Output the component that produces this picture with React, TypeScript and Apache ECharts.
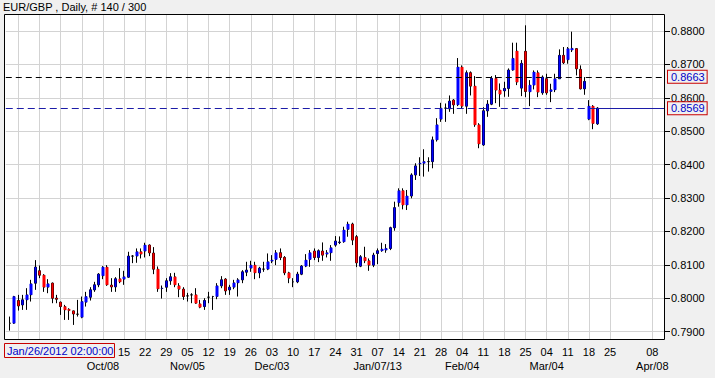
import React, { useEffect, useRef } from "react";
import * as echarts from "echarts";

// ---- OHLC values, one per daily bar (Sep 6 2012 .. Mar 20 2013) ----
const opens = [
  0.7925, 0.7925, 0.7993, 0.7980, 0.7995, 0.8010, 0.8045, 0.8082, 0.8069, 0.8033,
  0.8045, 0.8000, 0.7988, 0.7975, 0.7967, 0.7962, 0.7952, 0.7943, 0.7988, 0.8003,
  0.8025, 0.8040, 0.8067, 0.8093, 0.8039, 0.8034, 0.8058, 0.8057, 0.8063, 0.8126,
  0.8126, 0.8139, 0.8141, 0.8159, 0.8135, 0.8087, 0.8029, 0.8033, 0.8052, 0.8064,
  0.8037, 0.8027, 0.8007, 0.8010, 0.8010, 0.7983, 0.7975, 0.8003, 0.8005, 0.8005,
  0.8037, 0.8057, 0.8025, 0.8033, 0.8046, 0.8055, 0.8078, 0.8090, 0.8099, 0.8076,
  0.8087, 0.8087, 0.8111, 0.8116, 0.8136, 0.8122, 0.8076, 0.8049, 0.8049, 0.8072,
  0.8096, 0.8116, 0.8141, 0.8122, 0.8141, 0.8132, 0.8136, 0.8159, 0.8167, 0.8169,
  0.8206, 0.8222, 0.8184, 0.8096, 0.8122, 0.8112, 0.8099, 0.8134, 0.8142, 0.8144,
  0.8149, 0.8211, 0.8286, 0.8322, 0.8279, 0.8306, 0.8369, 0.8402, 0.8404, 0.8409,
  0.8409, 0.8474, 0.8536, 0.8569, 0.8567, 0.8593, 0.8579, 0.8692, 0.8575, 0.8675,
  0.8635, 0.8519, 0.8459, 0.8561, 0.8581, 0.8658, 0.8623, 0.8621, 0.8628, 0.8683,
  0.8740, 0.8629, 0.8739, 0.8618, 0.8638, 0.8675, 0.8615, 0.8657, 0.8619, 0.8624,
  0.8657, 0.8727, 0.8714, 0.8743, 0.8747, 0.8685, 0.8627, 0.8536, 0.8575, 0.8522,
];
const closes = [
  0.7925, 0.8005, 0.7977, 0.7995, 0.8010, 0.8043, 0.8093, 0.8069, 0.8033, 0.8043,
  0.8000, 0.7997, 0.7975, 0.7965, 0.7963, 0.7953, 0.7952, 0.7990, 0.8005, 0.8025,
  0.8040, 0.8072, 0.8093, 0.8040, 0.8034, 0.8058, 0.8049, 0.8064, 0.8126, 0.8126,
  0.8139, 0.8132, 0.8159, 0.8136, 0.8087, 0.8028, 0.8030, 0.8052, 0.8064, 0.8040,
  0.8027, 0.8005, 0.8007, 0.8010, 0.7985, 0.7973, 0.7993, 0.8003, 0.8005, 0.8037,
  0.8055, 0.8022, 0.8033, 0.8046, 0.8055, 0.8079, 0.8084, 0.8099, 0.8076, 0.8090,
  0.8087, 0.8109, 0.8114, 0.8136, 0.8122, 0.8076, 0.8060, 0.8049, 0.8072, 0.8096,
  0.8114, 0.8136, 0.8122, 0.8142, 0.8129, 0.8136, 0.8151, 0.8171, 0.8168, 0.8204,
  0.8222, 0.8174, 0.8106, 0.8124, 0.8112, 0.8099, 0.8129, 0.8142, 0.8147, 0.8149,
  0.8211, 0.8271, 0.8322, 0.8279, 0.8306, 0.8369, 0.8396, 0.8404, 0.8409, 0.8409,
  0.8474, 0.8519, 0.8569, 0.8569, 0.8590, 0.8579, 0.8692, 0.8575, 0.8675, 0.8635,
  0.8519, 0.8462, 0.8561, 0.8581, 0.8658, 0.8623, 0.8611, 0.8628, 0.8683, 0.8718,
  0.8647, 0.8703, 0.8619, 0.8638, 0.8677, 0.8617, 0.8662, 0.8615, 0.8624, 0.8657,
  0.8727, 0.8705, 0.8747, 0.8748, 0.8687, 0.8627, 0.8649, 0.8575, 0.8523, 0.8569,
];
const lows = [
  0.7903, 0.7923, 0.7963, 0.7965, 0.7965, 0.7990, 0.8025, 0.8060, 0.8019, 0.8015,
  0.7985, 0.7985, 0.7950, 0.7935, 0.7935, 0.7920, 0.7945, 0.7940, 0.7975, 0.7993,
  0.8019, 0.8033, 0.8057, 0.8037, 0.8019, 0.8019, 0.8045, 0.8040, 0.8061, 0.8105,
  0.8106, 0.8119, 0.8122, 0.8126, 0.8072, 0.8019, 0.7999, 0.8019, 0.8040, 0.8033,
  0.8003, 0.7995, 0.7990, 0.7985, 0.7983, 0.7970, 0.7965, 0.7985, 0.7965, 0.7997,
  0.8030, 0.8010, 0.8010, 0.8027, 0.8005, 0.8045, 0.8066, 0.8079, 0.8057, 0.8060,
  0.8079, 0.8084, 0.8105, 0.8099, 0.8114, 0.8069, 0.8045, 0.8033, 0.8045, 0.8069,
  0.8093, 0.8094, 0.8114, 0.8108, 0.8112, 0.8122, 0.8112, 0.8154, 0.8162, 0.8166,
  0.8184, 0.8159, 0.8093, 0.8093, 0.8105, 0.8082, 0.8093, 0.8102, 0.8139, 0.8136,
  0.8144, 0.8202, 0.8274, 0.8266, 0.8264, 0.8299, 0.8354, 0.8366, 0.8364, 0.8379,
  0.8389, 0.8469, 0.8528, 0.8528, 0.8558, 0.8552, 0.8575, 0.8567, 0.8552, 0.8607,
  0.8513, 0.8449, 0.8456, 0.8543, 0.8578, 0.8584, 0.8573, 0.8603, 0.8603, 0.8681,
  0.8638, 0.8605, 0.8602, 0.8575, 0.8625, 0.8602, 0.8609, 0.8609, 0.8587, 0.8617,
  0.8657, 0.8701, 0.8702, 0.8737, 0.8667, 0.8625, 0.8609, 0.8533, 0.8506, 0.8519,
];
const highs = [
  0.7945, 0.8007, 0.8010, 0.8010, 0.8030, 0.8055, 0.8114, 0.8098, 0.8072, 0.8057,
  0.8047, 0.8010, 0.7990, 0.7980, 0.7970, 0.7963, 0.7995, 0.8005, 0.8019, 0.8033,
  0.8049, 0.8075, 0.8096, 0.8099, 0.8060, 0.8063, 0.8090, 0.8082, 0.8139, 0.8129,
  0.8149, 0.8149, 0.8166, 0.8161, 0.8153, 0.8095, 0.8038, 0.8060, 0.8075, 0.8076,
  0.8045, 0.8033, 0.8016, 0.8015, 0.8030, 0.7995, 0.8000, 0.8019, 0.8007, 0.8045,
  0.8066, 0.8060, 0.8040, 0.8055, 0.8060, 0.8084, 0.8109, 0.8112, 0.8109, 0.8094,
  0.8109, 0.8134, 0.8129, 0.8144, 0.8149, 0.8126, 0.8079, 0.8060, 0.8079, 0.8099,
  0.8132, 0.8144, 0.8149, 0.8146, 0.8167, 0.8144, 0.8159, 0.8186, 0.8185, 0.8214,
  0.8229, 0.8226, 0.8189, 0.8129, 0.8154, 0.8119, 0.8136, 0.8149, 0.8166, 0.8162,
  0.8214, 0.8289, 0.8329, 0.8329, 0.8324, 0.8374, 0.8404, 0.8422, 0.8446, 0.8422,
  0.8484, 0.8539, 0.8585, 0.8583, 0.8607, 0.8596, 0.8719, 0.8697, 0.8682, 0.8679,
  0.8665, 0.8524, 0.8572, 0.8593, 0.8665, 0.8668, 0.8643, 0.8648, 0.8688, 0.8765,
  0.8765, 0.8713, 0.8817, 0.8653, 0.8682, 0.8682, 0.8667, 0.8672, 0.8642, 0.8672,
  0.8745, 0.8752, 0.8752, 0.8798, 0.8749, 0.8697, 0.8662, 0.8593, 0.8578, 0.8572,
];

// ---- time slots (weekday bars), ticks and labels ----
const firstSlotDate = "2012-09-05"; // bar just scrolled off the left edge
const slotTotal = 157; // 1 hidden + 140 bars + 16 future slots
const firstCandleSlot = 1;
const weekTicks = [
  "2012-09-10", "2012-09-17", "2012-09-24", "2012-10-01", "2012-10-08",
  "2012-10-15", "2012-10-22", "2012-10-29", "2012-11-05", "2012-11-12",
  "2012-11-19", "2012-11-26", "2012-12-03", "2012-12-10", "2012-12-17",
  "2012-12-24", "2012-12-31", "2013-01-07", "2013-01-14", "2013-01-21",
  "2013-01-28", "2013-02-04", "2013-02-11", "2013-02-18", "2013-02-25",
  "2013-03-04", "2013-03-11", "2013-03-18", "2013-03-25", "2013-04-08",
];
// week labels hidden behind the cursor-time box in the reference
const coveredDayLabels = ["2012-09-10", "2012-09-17", "2012-09-24", "2012-10-01", "2012-10-08"];
const monthTicks: Record<string, string> = {
  "2012-10-08": "Oct/08",
  "2012-11-05": "Nov/05",
  "2012-12-03": "Dec/03",
  "2013-01-07": "Jan/07/13",
  "2013-02-04": "Feb/04",
  "2013-03-04": "Mar/04",
  "2013-04-08": "Apr/08",
};
const yTickValues = [0.79, 0.8, 0.81, 0.82, 0.83, 0.84, 0.85, 0.86, 0.87, 0.88];
const yMin = 0.787485;
const yMax = 0.88509;
const levelBlack = 0.8663;
const levelBid = 0.8569;
const titleText = "EUR/GBP , Daily, # 140 / 300";
const cursorTime = "Jan/26/2012 02:00:00";

function buildSlots(): string[] {
  const out: string[] = [];
  const [y, m, d] = firstSlotDate.split("-").map(Number);
  const t = new Date(Date.UTC(y, m - 1, d));
  while (out.length < slotTotal) {
    const wd = t.getUTCDay();
    if (wd !== 0 && wd !== 6) out.push(t.toISOString().slice(0, 10));
    t.setUTCDate(t.getUTCDate() + 1);
  }
  return out;
}

const FONT = "Liberation Sans";
const BG = "#f0f0f0";
const GRID = "#d3d3d3";
const UP = "#0000ff";
const DOWN = "#ff0000";

export default function App() {
  const ref = useRef<HTMLDivElement>(null);
  useEffect(() => {
    if (!ref.current) return;
    const chart = echarts.init(ref.current, undefined, { renderer: "svg" });
    const slots = buildSlots();
    const weekSet = new Set(weekTicks);
    const coveredSet = new Set(coveredDayLabels);
    const empty = ["-", "-", "-", "-"];
    const wickData = slots.map((_, k) => {
      const i = k - firstCandleSlot;
      if (i < 0 || i >= opens.length) return empty;
      return [opens[i], closes[i], lows[i], highs[i]];
    });
    const bodyData = slots.map((_, k) => {
      const i = k - firstCandleSlot;
      if (i < 0 || i >= opens.length || opens[i] === closes[i]) return empty;
      const o = opens[i];
      const c = closes[i];
      return [o, c, Math.min(o, c), Math.max(o, c)];
    });
    const lastCandleDate = slots[firstCandleSlot + opens.length - 1];

    const boxLabel = (text: string) => ({
      show: true,
      position: "end",
      distance: 3,
      formatter: text,
      color: "#0000c8",
      fontFamily: FONT,
      fontSize: 11,
      lineHeight: 12,
      borderColor: "#c80000",
      borderWidth: 1,
      padding: [0, 2, 0, 3],
      backgroundColor: BG,
    });

    const labelText = { fontSize: 11, color: "#000", fontFamily: FONT };

    chart.setOption({
      animation: false,
      backgroundColor: BG,
      textStyle: { fontFamily: FONT },
      grid: {
        left: 5.774,
        right: 50,
        top: 14,
        bottom: 38,
        containLabel: false,
        outerBoundsMode: "none",
      },
      xAxis: [
        {
          type: "category",
          data: slots,
          boundaryGap: false,
          axisLine: { show: false },
          axisTick: { show: false },
          axisLabel: {
            ...labelText,
            interval: (_: number, v: string) => weekSet.has(v) && !coveredSet.has(v),
            formatter: (v: string) => v.slice(8, 10),
            margin: 5,
            lineHeight: 14,
          },
          splitLine: {
            show: true,
            interval: (_: number, v: string) => weekSet.has(v),
            lineStyle: { color: GRID, width: 1 },
          },
        },
        {
          type: "category",
          data: slots,
          boundaryGap: false,
          position: "bottom",
          offset: 14,
          axisLine: { show: false },
          axisTick: { show: false },
          splitLine: { show: false },
          axisLabel: {
            ...labelText,
            interval: (_: number, v: string) => !!monthTicks[v],
            formatter: (v: string) => monthTicks[v] || "",
            margin: 5,
            lineHeight: 14,
          },
        },
      ],
      yAxis: {
        type: "value",
        position: "right",
        min: yMin,
        max: yMax,
        scale: true,
        axisLine: { show: false },
        axisTick: {
          show: true,
          length: 5,
          customValues: yTickValues,
          lineStyle: { color: "#000", width: 1 },
        },
        axisLabel: {
          ...labelText,
          customValues: yTickValues,
          formatter: (v: number) => v.toFixed(4),
          margin: 6,
          lineHeight: 8,
        },
        splitLine: { show: true, lineStyle: { color: GRID, width: 1 } },
      },
      series: [
        {
          type: "candlestick",
          name: "wick",
          data: wickData,
          barWidth: 2,
          itemStyle: {
            color: "#000",
            color0: "#000",
            borderColor: "#000",
            borderColor0: "#000",
            borderWidth: 1,
          },
          silent: true,
        },
        {
          type: "candlestick",
          name: "body",
          data: bodyData,
          barWidth: 3,
          itemStyle: {
            color: UP,
            color0: DOWN,
            borderColor: UP,
            borderColor0: DOWN,
            borderWidth: 0,
          },
          silent: true,
          markLine: {
            silent: true,
            precision: 4,
            symbol: ["none", "none"],
            animation: false,
            data: [
              {
                yAxis: levelBlack,
                lineStyle: { color: "#000", type: [6, 4], width: 1 },
                label: boxLabel(levelBlack.toFixed(4)),
              },
              [
                {
                  coord: [slots[0], levelBid],
                  lineStyle: { color: "#1c1ca8", type: [7, 4], width: 1 },
                  label: { show: false },
                },
                { coord: [lastCandleDate, levelBid] },
              ],
              [
                {
                  coord: [lastCandleDate, levelBid],
                  lineStyle: { color: "#1c1ca8", type: "solid", width: 1 },
                  label: boxLabel(levelBid.toFixed(4)),
                },
                { coord: [slots[slots.length - 1], levelBid] },
              ],
            ],
          },
        },
      ],
      graphic: [
        {
          type: "rect",
          z: -10,
          silent: true,
          shape: { x: 5, y: 14, width: 660, height: 326 },
          style: { fill: "#ffffff" },
        },
        {
          type: "rect",
          z: 50,
          silent: true,
          shape: { x: 4.5, y: 14.5, width: 660, height: 325 },
          style: { fill: "none", stroke: "#000", lineWidth: 1 },
        },
        {
          type: "text",
          x: 3,
          y: 1,
          z: 50,
          style: {
            text: titleText,
            font: `11px "${FONT}"`,
            fill: "#000",
            verticalAlign: "top",
          },
        },
        {
          type: "group",
          x: 4,
          y: 343,
          z: 60,
          children: [
            {
              type: "rect",
              z: 60,
              shape: { x: 0.5, y: 0.5, width: 110, height: 14 },
              style: { fill: BG, stroke: "#c80000", lineWidth: 1 },
            },
            {
              type: "text",
              z: 61,
              x: 3,
              y: 2,
              style: {
                text: cursorTime,
                font: `11px "${FONT}"`,
                fill: "#0000c8",
                verticalAlign: "top",
              },
            },
          ],
        },
      ],
    });
    return () => chart.dispose();
  }, []);
  return (
    <div
      ref={ref}
      style={{ position: "absolute", left: 0, top: 0, width: 715, height: 378 }}
    />
  );
}
